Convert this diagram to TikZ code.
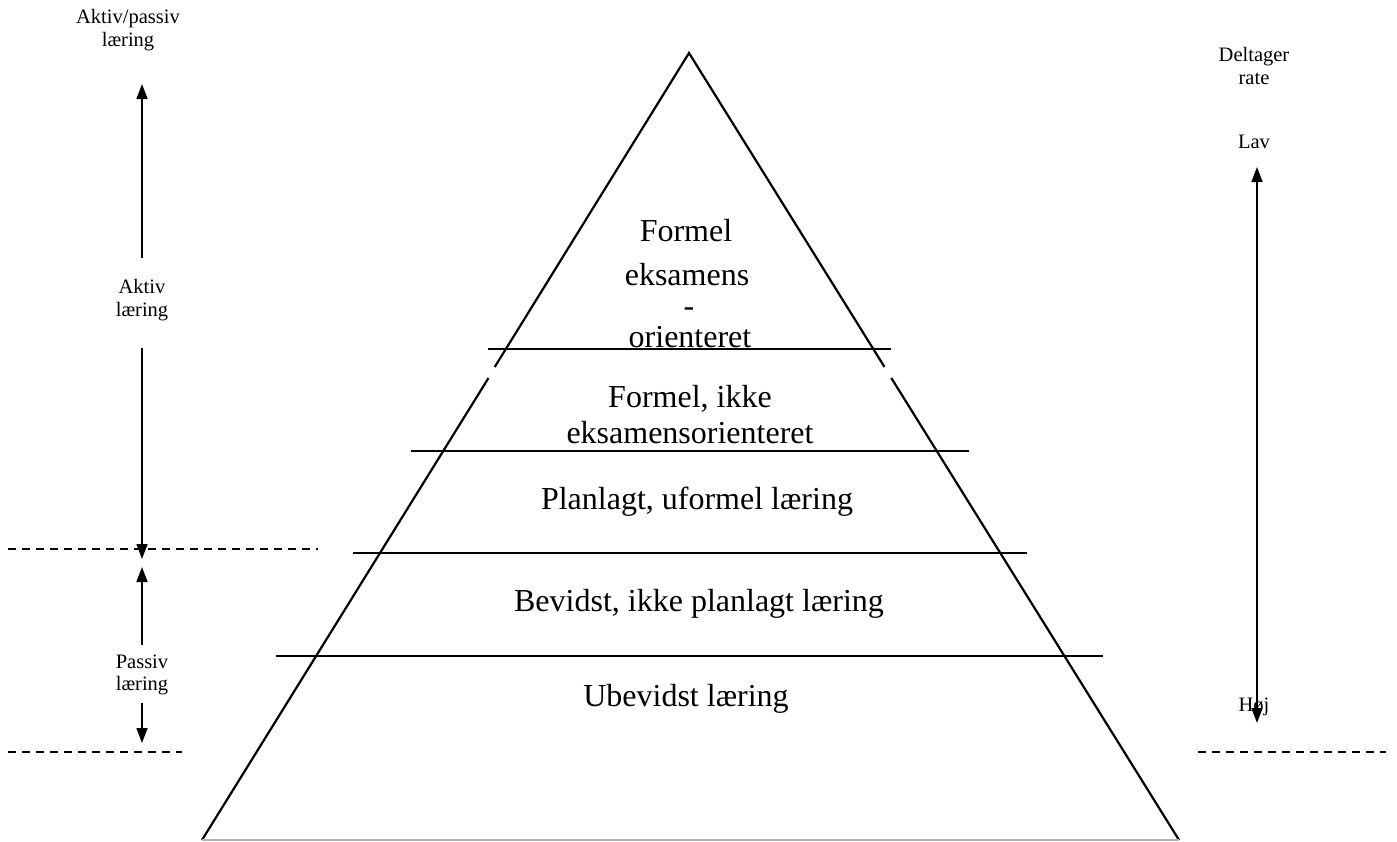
\documentclass[tikz,border=0pt]{standalone}
\usepackage{fontspec}
\setmainfont{Liberation Serif}
\usetikzlibrary{arrows.meta}
\begin{document}
\begin{tikzpicture}[x=1pt,y=-1pt,
  small/.style={font=\fontsize{20.5}{22.5}\selectfont, align=center, inner sep=0pt},
  big/.style={font=\fontsize{32}{36}\selectfont, align=center, inner sep=0pt},
  side/.style={line width=2.2pt, line join=miter},
  level/.style={line width=1.6pt},
  guide/.style={line width=1.3pt, dash pattern=on 8pt off 6pt},
  arr/.style={line width=1.6pt, -{Triangle[width=11pt,length=15pt]}},
  dblarr/.style={line width=1.6pt, {Triangle[width=11pt,length=15pt]}-{Triangle[width=11pt,length=15pt]}}]
\useasboundingbox (0,0) rectangle (1397,841);

% pyramid: top triangle and lower trapezoid, with a small break between them
\coordinate (apex) at (689,53);
\coordinate (tl) at (494.7,367);
\coordinate (tr) at (884.5,367);
\coordinate (ml) at (488.5,378);
\coordinate (mr) at (891.3,378);
\coordinate (bl) at (202,840);
\coordinate (br) at (1179,840);
\draw[side] (tl) -- (apex) -- (tr);
\draw[side] (ml) -- (bl);
\draw[side] (mr) -- (br);
\draw[line width=1.4pt, gray!60] (bl) -- (br);

% level dividers
\coordinate (l1a) at (488,349); \coordinate (l1b) at (891,349);
\coordinate (l2a) at (411,451); \coordinate (l2b) at (969,451);
\coordinate (l3a) at (353,553); \coordinate (l3b) at (1027,553);
\coordinate (l4a) at (276,656); \coordinate (l4b) at (1103,656);
\draw[level] (l1a) -- (l1b);
\draw[level] (l2a) -- (l2b);
\draw[level] (l3a) -- (l3b);
\draw[level] (l4a) -- (l4b);

% level texts
\node[big, anchor=base] (f1) at (686,241) {Formel};
\node[big, anchor=base] (f2) at (687,285) {eksamens};
\node[big, anchor=base] (f3) at (689,316) {-};
\node[big, anchor=base] (f4) at (690,347) {orienteret};
\node[big] (fik) at (690,415) {Formel, ikke\\eksamensorienteret};
\node[big] (plan) at (697,502) {Planlagt, uformel læring};
\node[big] (bev) at (699,604) {Bevidst, ikke planlagt læring};
\node[big] (ubev) at (686,699) {Ubevidst læring};

% dashed guide lines
\coordinate (g1a) at (8,549); \coordinate (g1b) at (318,549);
\coordinate (g2a) at (8,752); \coordinate (g2b) at (182,752);
\coordinate (g3a) at (1198,752); \coordinate (g3b) at (1386,752);
\draw[guide] (g1a) -- (g1b);
\draw[guide] (g2a) -- (g2b);
\draw[guide] (g3a) -- (g3b);

% left scale
\node[small] (ap) at (128,30) {Aktiv/passiv\\læring};
\node[small] (akt) at (142,300) {Aktiv\\læring};
\node[small] (pas) at (142,675) {Passiv\\læring};
\coordinate (a1) at (142,84);
\coordinate (a2) at (142,559);
\coordinate (a3) at (142,567);
\coordinate (a4) at (142,743);
\draw[arr] ([yshift=21pt]akt.north) -- (a1);
\draw[arr] ([yshift=-27pt]akt.south) -- (a2);
\draw[arr] ([yshift=10pt]pas.north) -- (a3);
\draw[arr] ([yshift=-8pt]pas.south) -- (a4);

% right scale
\node[small] (del) at (1254,66) {Deltager\\rate};
\node[small] (lav) at (1254,142) {Lav};
\node[small] (hoj) at (1254,707) {Høj};
\coordinate (r1) at (1257,167);
\coordinate (r2) at (1257,723);
\draw[dblarr] (r1) -- (r2);
\end{tikzpicture}
\end{document}
